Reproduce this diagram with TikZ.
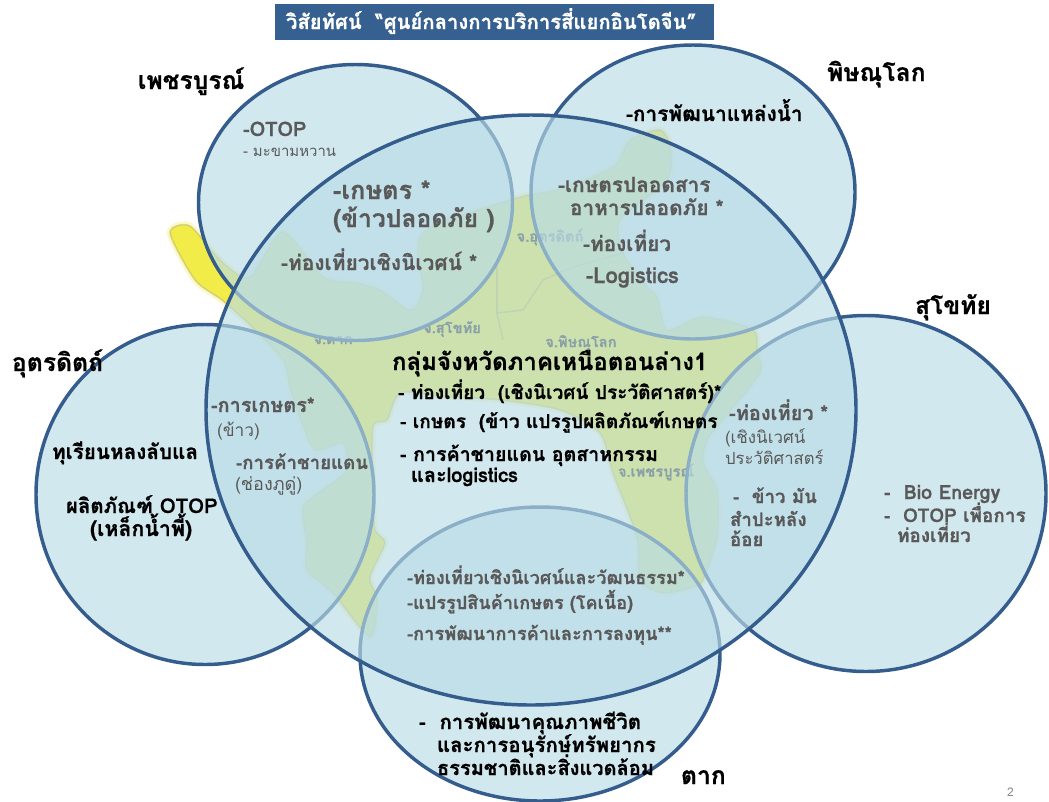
\documentclass[tikz,border=0pt]{standalone}
\usepackage{fontspec}
\setmainfont[Script=Thai, BoldFeatures={FakeBold=0.6}]{Loma}
\definecolor{VennFill}{HTML}{BADCE6}
\definecolor{VennLine}{HTML}{345D8E}
\definecolor{TitleBar}{HTML}{35608F}
\definecolor{LandColor}{HTML}{F2EC48}
\definecolor{TopicGray}{HTML}{595959}
\tikzset{%
    venn/.style={fill=VennFill, fill opacity=0.65, draw=VennLine, line width=2.6pt},
    label base/.style={anchor=base west, inner sep=0pt, outer sep=0pt},
    province/.style={label base, font=\bfseries\fontsize{18.5pt}{22pt}\selectfont, text=black},
    topic/.style={label base, font=\bfseries\fontsize{#1pt}{#1pt}\selectfont, text=TopicGray},
    topicthin/.style={label base, font=\fontsize{#1pt}{#1pt}\selectfont, text=TopicGray},
    topicblack/.style={label base, font=\bfseries\fontsize{#1pt}{#1pt}\selectfont, text=black},
    maplabel/.style={inner sep=0pt, font=\bfseries\fontsize{11pt}{13pt}\selectfont, text=black!80},
}
\begin{document}
\begin{tikzpicture}[x=0.75pt, y=-0.75pt]
    \useasboundingbox (0, 0) rectangle (1049, 801);

    % map
    \def\landpath{plot [smooth cycle, tension=0.45] coordinates {
        (170,233) (190,226) (222,262) (250,277) (283,232) (323,277) (357,283) (380,290)
        (410,310) (423,290) (423,233) (517,198) (557,190) (613,167) (630,140) (660,130)
        (670,147) (667,180) (620,220) (623,253) (647,287) (657,297) (667,330) (703,317)
        (753,330) (757,353) (760,373) (720,423) (707,440) (703,463) (717,490) (717,537)
        (703,580) (693,587) (663,593) (640,580) (637,537) (613,473) (600,433) (560,410)
        (500,400) (440,396) (400,393) (387,420) (373,427) (373,493) (375,530) (385,543)
        (370,577) (377,600) (370,637) (333,593) (307,570) (307,543) (303,507) (327,487)
        (347,470) (343,443) (315,450) (300,417) (290,387) (283,360) (250,325) (222,300)
        (195,280)}}
    \fill [LandColor] \landpath;
    \draw [LandColor, line width=5pt, opacity=0.3] \landpath;
    \draw [black!55, line width=1.2pt, opacity=0.25] \landpath;
    % province borders on the map
    \draw [black!55, line width=1.2pt, opacity=0.3] (497,260) -- (497,313) -- (523,310) -- (543,280) -- (573,267) -- (623,253);
    \draw [black!55, line width=1.2pt, opacity=0.3] (497,313) -- (503,340);
    \node [maplabel] (maputtaradit) at (550,237) {จ.อุตรดิตถ์};
    \node [maplabel] (mapsukhothai) at (452,329) {จ.สุโขทัย};
    \node [maplabel] (maptak) at (333,340) {จ.ตาก};
    \node [maplabel] (mapphitsanulok) at (581,343) {จ.พิษณุโลก};
    \node [maplabel] (mapphetchabun) at (656,472) {จ.เพชรบูรณ์};

    % outer circles, then the big one over them
    \foreach \cx/\cy/\rx/\ry in {355.5/202.5/157/138, 693/192/162/147, 866/493.5/180/178, 205/494.5/169/170, 540/654/180/147} {%
            \draw [venn] (\cx, \cy) ellipse [x radius=\rx*0.75pt, y radius=\ry*0.75pt];
        };
    \draw [venn] (531, 410) ellipse [x radius=325*0.75pt, y radius=295*0.75pt];

    % title
    \fill [TitleBar] (275, 4) rectangle (714, 40);
    \node [label base, font=\bfseries\fontsize{15.2pt}{18pt}\selectfont, text=white] (titletext) at (286, 29) {วิสัยทัศน์~~“ศูนย์กลางการบริการสี่แยกอินโดจีน”};

    % province names
    \node [province] (phetchabun) at (138, 89) {เพชรบูรณ์};
    \node [province] (phitsanulok) at (827, 81) {พิษณุโลก};
    \node [province] (sukhothai) at (915, 314) {สุโขทัย};
    \node [province] (uttaradit) at (12, 371) {อุตรดิตถ์};
    \node [province] (tak) at (681, 784) {ตาก};

    % phetchabun
    \node [topic=15] (pbotop) at (243, 136) {-OTOP};
    \node [topicthin=11.2] (pbtamarind) at (243, 156) {- มะขามหวาน};
    \node [topic=19] (pbfarm) at (333, 199) {-เกษตร *};
    \node [topic=18.5] (pbrice) at (333, 227) {(ข้าวปลอดภัย )};
    \node [topic=15.7] (pbeco) at (281, 270) {-ท่องเที่ยวเชิงนิเวศน์ *};

    % phitsanulok
    \node [topicblack=15.6] (plwater) at (626, 121) {-การพัฒนาแหล่งน้ำ};
    \node [topic=15.6] (plfarm) at (558, 192) {-เกษตรปลอดสาร};
    \node [topic=15.6] (plfood) at (570, 215) {อาหารปลอดภัย *};
    \node [topic=15.6] (pltour) at (583, 251) {-ท่องเที่ยว};
    \node [topic=16.5] (pllogistics) at (586, 283) {-Logistics};

    % centre
    \node [topicblack=18] (centrehead) at (392, 370) {กลุ่มจังหวัดภาคเหนือตอนล่าง1};
    \node [topicblack=14.3] (centretour) at (398, 399) {- ท่องเที่ยว~~(เชิงนิเวศน์ ประวัติศาสตร์)*};
    \node [topicblack=14.3] (centrefarm) at (400, 428) {- เกษตร~~(ข้าว แปรรูปผลิตภัณฑ์เกษตร};
    \node [topicblack=14.7] (centretrade) at (400, 461) {- การค้าชายแดน อุตสาหกรรม};
    \node [topicblack=15] (centrelogistics) at (411, 482) {และlogistics};

    % uttaradit
    \node [topic=14.9] (utfarm) at (211, 412) {-การเกษตร*};
    \node [topicthin=13] (utrice) at (217, 436) {(ข้าว)};
    \node [topic=14] (uttrade) at (236, 469) {-การค้าชายแดน};
    \node [topicthin=13.5] (utgate) at (235, 490) {(ช่องภูดู่)};
    \node [topicblack=15.5] (utdurian) at (52, 459) {ทุเรียนหลงลับแล};
    \node [topicblack=15.3] (utotop) at (66, 513) {ผลิตภัณฑ์ OTOP};
    \node [topicblack=16] (utiron) at (90, 536) {(เหล็กน้ำพี้)};

    % sukhothai
    \node [topic=15] (sttour) at (729, 420) {-ท่องเที่ยว *};
    \node [topicthin=12.7] (steco) at (725, 443) {(เชิงนิเวศน์};
    \node [topicthin=12.5] (sthist) at (725, 464) {ประวัติศาสตร์};
    \node [topic=14] (strice) at (733, 503) {-~~ข้าว มัน};
    \node [topic=14] (stcassava) at (730, 526) {สำปะหลัง};
    \node [topic=14] (stcane) at (730, 546) {อ้อย};
    \node [topic=14.7] (stbio) at (884, 499) {-~~Bio Energy};
    \node [topic=14.2] (stotop) at (884, 522) {-~~OTOP เพื่อการ};
    \node [topic=14.2] (sttourism) at (897, 542) {ท่องเที่ยว};

    % tak
    \node [topic=13.6] (tktour) at (407, 584) {-ท่องเที่ยวเชิงนิเวศน์และวัฒนธรรม*};
    \node [topic=13.6] (tkbeef) at (407, 609) {-แปรรูปสินค้าเกษตร (โคเนื้อ)};
    \node [topic=13.7] (tktrade) at (407, 640) {-การพัฒนาการค้าและการลงทุน**};
    \node [topicblack=15.3] (tklife) at (419, 729) {-~~การพัฒนาคุณภาพชีวิต};
    \node [topicblack=15.3] (tkcons) at (437, 752) {และการอนุรักษ์ทรัพยากร};
    \node [topicblack=15] (tknature) at (437, 775) {ธรรมชาติและสิ่งแวดล้อม};

    \node [topicthin=9, text=black!45] (pagenum) at (1007, 796) {2};
\end{tikzpicture}
\end{document}
